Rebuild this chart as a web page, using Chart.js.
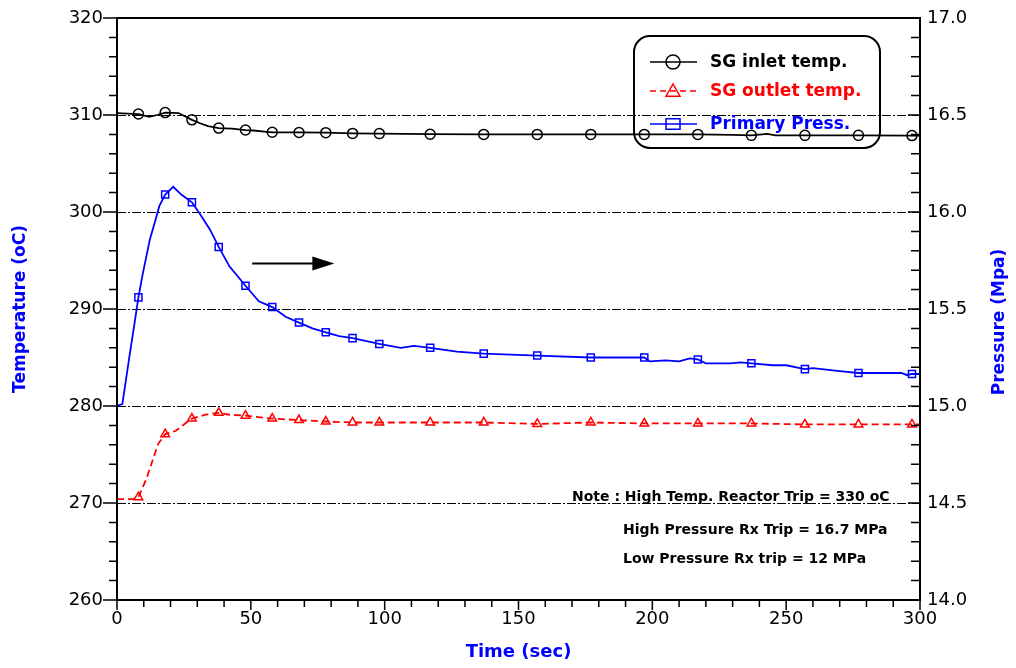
<!DOCTYPE html>
<html>
<head>
<meta charset="utf-8">
<script src="https://cdn.jsdelivr.net/npm/chart.js@4/dist/chart.umd.min.js"></script>
<style>
  body { margin: 0; background: #fff; }
  canvas { display: block; }
</style>
</head>
<body>
<canvas id="c" width="1016" height="668"></canvas>
<script>
// tick values
const timeTicks = [0, 50, 100, 150, 200, 250, 300];
const tempTicks = [260, 270, 280, 290, 300, 310, 320];
const pressTicks = [14.0, 14.5, 15.0, 15.5, 16.0, 16.5, 17.0];

// times where the symbols sit
const markerTimes = [8, 18, 28, 38, 48, 58, 68, 78, 88, 98, 117, 137, 157, 177, 197, 217, 237, 257, 277, 297];

// SG inlet temp (oC)
const inletTime = [0, 8, 12, 15, 18, 23, 28, 31, 34, 38, 43, 48, 51, 56, 58, 68, 78, 88, 98, 117, 137, 157, 177, 197, 217, 230, 237, 243, 246, 257, 277, 297, 300];
const inletTemp = [310.2, 310.1, 309.8, 310.0, 310.25, 310.2, 309.5, 309.15, 308.85, 308.65, 308.6, 308.45, 308.4, 308.25, 308.22, 308.2, 308.18, 308.1, 308.08, 308.02, 308.0, 308.0, 308.0, 308.0, 308.0, 307.95, 307.9, 308.05, 307.9, 307.9, 307.9, 307.88, 307.88];

// SG outlet temp (oC)
const outletTime = [0, 6, 8, 11, 13.3, 15.4, 18, 22, 25, 28, 33, 38, 42, 48, 58, 68, 78, 88, 98, 117, 137, 157, 177, 197, 217, 237, 257, 277, 297, 300];
const outletTemp = [270.4, 270.4, 270.6, 272.5, 274.4, 276.1, 277.1, 277.45, 278.1, 278.7, 279.1, 279.3, 279.1, 279.0, 278.7, 278.55, 278.4, 278.3, 278.3, 278.3, 278.3, 278.15, 278.3, 278.2, 278.2, 278.2, 278.1, 278.1, 278.1, 278.1];

// Primary pressure (MPa)
const pressTime = [0, 2, 4.8, 6.7, 8, 9.6, 12.3, 14.2, 15.8, 18, 21, 24, 28, 31, 34.7, 38, 42, 48, 53, 58, 63, 68, 73, 78, 83, 88, 98, 106, 111, 117, 127, 137, 157, 177, 197, 199, 205, 210, 214, 217, 220, 229, 233, 237, 245, 250, 257, 260, 270, 277, 293, 295, 297, 300];
const pressVal = [15.0, 15.01, 15.27, 15.44, 15.56, 15.68, 15.86, 15.95, 16.03, 16.09, 16.13, 16.09, 16.05, 15.99, 15.91, 15.82, 15.72, 15.62, 15.54, 15.51, 15.46, 15.43, 15.40, 15.38, 15.36, 15.35, 15.32, 15.30, 15.31, 15.30, 15.28, 15.27, 15.26, 15.25, 15.25, 15.23, 15.235, 15.23, 15.245, 15.24, 15.22, 15.22, 15.225, 15.22, 15.21, 15.21, 15.19, 15.195, 15.18, 15.17, 15.17, 15.16, 15.165, 15.165];

const legendItems = [
  { label: 'SG inlet temp.', color: '#000000', style: 'circle', dash: [] },
  { label: 'SG outlet temp.', color: '#ff0000', style: 'triangle', dash: [6, 4] },
  { label: 'Primary Press.', color: '#0000ff', style: 'rect', dash: [] }
];
const notes = [
  'Note : High Temp. Reactor Trip = 330 oC',
  'High Pressure Rx Trip = 16.7 MPa',
  'Low Pressure Rx trip = 12 MPa'
];

const pts = (xs, ys) => xs.map((x, i) => ({ x, y: ys[i] }));
const markerRadius = ctx => markerTimes.includes(ctx.raw && ctx.raw.x) ? 5 : 0;

function drawSymbol(ctx, style, x, y, r) {
  ctx.beginPath();
  if (style === 'circle') {
    ctx.arc(x, y, r, 0, Math.PI * 2);
  } else if (style === 'triangle') {
    ctx.moveTo(x, y - r);
    ctx.lineTo(x + r, y + r * 0.75);
    ctx.lineTo(x - r, y + r * 0.75);
    ctx.closePath();
  } else {
    ctx.rect(x - r, y - r * 0.75, r * 2, r * 1.5);
  }
  ctx.stroke();
}

// fixed scale sizes, no extra label overhang padding
const fixWidth = w => s => { s.width = w; s.paddingTop = 0; s.paddingBottom = 0; };
const fixHeight = h => s => { s.height = h; s.paddingLeft = 0; s.paddingRight = 0; };

const decor = {
  id: 'decor',
  beforeDatasetsDraw(chart) {
    const { ctx, chartArea: a, scales } = chart;
    // dash-dot grid lines
    ctx.save();
    ctx.strokeStyle = '#000';
    ctx.lineWidth = 1.2;
    ctx.setLineDash([9, 2, 2, 2]);
    for (const v of tempTicks.slice(1, -1)) {
      const y = Math.round(scales.y.getPixelForValue(v)) + 0.5;
      ctx.beginPath();
      ctx.moveTo(a.left, y);
      ctx.lineTo(a.right, y);
      ctx.stroke();
    }
    ctx.restore();
  },
  afterDatasetsDraw(chart) {
    const { ctx, chartArea: a, scales } = chart;
    ctx.save();
    ctx.strokeStyle = '#000';
    ctx.fillStyle = '#000';
    ctx.lineWidth = 2;

    // frame
    ctx.strokeRect(a.left, a.top, a.right - a.left, a.bottom - a.top);

    // tick marks
    ctx.lineWidth = 1.5;
    ctx.beginPath();
    for (let v = 260; v <= 320; v += 2) {
      const y = scales.y.getPixelForValue(v);
      ctx.moveTo(a.left - (v % 10 === 0 ? 14 : 8), y);
      ctx.lineTo(a.left, y);
    }
    for (let i = 0; i <= 30; i++) {
      const y = scales.yP.getPixelForValue(14 + i * 0.1);
      ctx.moveTo(a.right - (i % 5 === 0 ? 12 : 9), y);
      ctx.lineTo(a.right, y);
    }
    for (let t = 0; t <= 300; t += 10) {
      const x = scales.x.getPixelForValue(t);
      ctx.moveTo(x, a.bottom);
      ctx.lineTo(x, a.bottom + (t % 50 === 0 ? 10 : 7));
    }
    ctx.stroke();

    // arrow pointing to the pressure axis
    const ax0 = scales.x.getPixelForValue(50.5);
    const ax1 = scales.x.getPixelForValue(81.2);
    const ay = scales.y.getPixelForValue(294.7);
    ctx.lineWidth = 2;
    ctx.beginPath();
    ctx.moveTo(ax0, ay);
    ctx.lineTo(ax1 - 18, ay);
    ctx.stroke();
    ctx.beginPath();
    ctx.moveTo(ax1, ay);
    ctx.lineTo(ax1 - 22, ay - 7);
    ctx.lineTo(ax1 - 22, ay + 7);
    ctx.closePath();
    ctx.fill();

    // legend box
    const bx = 634, by = 36, bw = 246, bh = 112, br = 16;
    ctx.lineWidth = 2;
    ctx.beginPath();
    ctx.roundRect(bx, by, bw, bh, br);
    ctx.stroke();
    const rows = [62, 91, 124];
    ctx.font = 'bold 17px "DejaVu Sans"';
    ctx.textBaseline = 'middle';
    legendItems.forEach((it, i) => {
      const y = rows[i];
      ctx.strokeStyle = it.color;
      ctx.fillStyle = it.color;
      ctx.lineWidth = 1.5;
      ctx.setLineDash(it.dash);
      ctx.beginPath();
      ctx.moveTo(650, y);
      ctx.lineTo(697, y);
      ctx.stroke();
      ctx.setLineDash([]);
      drawSymbol(ctx, it.style, 673, y, 7);
      ctx.fillText(it.label, 710, y + 1);
    });

    // notes
    ctx.fillStyle = '#000';
    ctx.font = 'bold 14px "DejaVu Sans"';
    ctx.textAlign = 'left';
    ctx.fillText(notes[0], 572, 497);
    ctx.fillText(notes[1], 623, 530);
    ctx.fillText(notes[2], 623, 559);

    // right axis title, reading bottom to top
    ctx.save();
    ctx.translate(1000, 322);
    ctx.rotate(-Math.PI / 2);
    ctx.textAlign = 'center';
    ctx.fillStyle = '#0000ff';
    ctx.font = 'bold 17px "DejaVu Sans"';
    ctx.fillText('Pressure (Mpa)', 0, 0);
    ctx.restore();

    ctx.restore();
  }
};

const tickFont = { family: 'DejaVu Sans', size: 18 };

new Chart(document.getElementById('c'), {
  type: 'line',
  data: {
    datasets: [
      {
        label: 'SG inlet temp.',
        data: pts(inletTime, inletTemp),
        yAxisID: 'y',
        borderColor: '#000000',
        borderWidth: 1.8,
        pointStyle: 'circle',
        pointRadius: markerRadius,
        pointBorderColor: '#000000',
        pointBorderWidth: 1.5,
        pointBackgroundColor: 'rgba(0,0,0,0)'
      },
      {
        label: 'SG outlet temp.',
        data: pts(outletTime, outletTemp),
        yAxisID: 'y',
        borderColor: '#ff0000',
        borderWidth: 1.8,
        borderDash: [7, 4],
        pointStyle: 'triangle',
        pointRadius: markerRadius,
        pointBorderColor: '#ff0000',
        pointBorderWidth: 1.5,
        pointBackgroundColor: 'rgba(0,0,0,0)'
      },
      {
        label: 'Primary Press.',
        data: pts(pressTime, pressVal),
        yAxisID: 'yP',
        borderColor: '#0000ff',
        borderWidth: 1.8,
        pointStyle: 'rect',
        pointRadius: markerRadius,
        pointBorderColor: '#0000ff',
        pointBorderWidth: 1.5,
        pointBackgroundColor: 'rgba(0,0,0,0)'
      }
    ]
  },
  options: {
    responsive: false,
    devicePixelRatio: 1,
    animation: false,
    layout: { padding: { top: 18, left: 0, right: 0, bottom: 0 } },
    plugins: { legend: { display: false }, tooltip: { enabled: false } },
    scales: {
      x: {
        type: 'linear',
        position: 'bottom',
        min: 0,
        max: 300,
        afterFit: fixHeight(68),
        afterBuildTicks: s => { s.ticks = timeTicks.map(v => ({ value: v })); },
        ticks: { font: tickFont, color: '#000', padding: 9, maxRotation: 0, autoSkip: false },
        grid: { display: false, drawTicks: false },
        border: { display: false },
        title: {
          display: true,
          text: 'Time (sec)',
          color: '#0000ff',
          font: { family: 'DejaVu Sans', size: 18, weight: 'bold' },
          padding: { top: 0, bottom: 5 }
        }
      },
      y: {
        type: 'linear',
        position: 'left',
        min: 260,
        max: 320,
        afterFit: fixWidth(117),
        afterBuildTicks: s => { s.ticks = tempTicks.map(v => ({ value: v })); },
        ticks: { font: tickFont, color: '#000', padding: 14 },
        grid: { display: false, drawTicks: false },
        border: { display: false },
        title: {
          display: true,
          text: 'Temperature (oC)',
          color: '#0000ff',
          font: { family: 'DejaVu Sans', size: 17, weight: 'bold' },
          padding: { top: 10, bottom: 0 }
        }
      },
      yP: {
        type: 'linear',
        position: 'right',
        min: 14,
        max: 17,
        afterFit: fixWidth(96),
        afterBuildTicks: s => { s.ticks = pressTicks.map(v => ({ value: v })); },
        ticks: { font: tickFont, color: '#000', padding: 7, callback: v => v.toFixed(1) },
        grid: { display: false, drawTicks: false },
        border: { display: false }
      }
    }
  },
  plugins: [decor]
});
</script>
</body>
</html>
